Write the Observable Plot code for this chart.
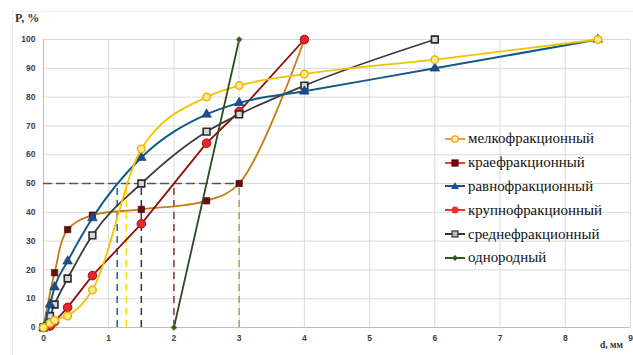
<!DOCTYPE html>
<html><head><meta charset="utf-8">
<script src="https://cdn.jsdelivr.net/npm/d3@7"></script>
<script src="https://cdn.jsdelivr.net/npm/@observablehq/plot@0.6"></script>
<style>
body{margin:0;background:#fff;}
#wrap{position:relative;width:633px;height:355px;overflow:hidden;}
#border{position:absolute;left:12px;top:11px;width:640px;height:400px;border-left:1px solid #ececec;border-top:1px solid #ececec;}
.ttl{position:absolute;font-family:"Liberation Serif","Times New Roman",serif;font-weight:bold;color:#333;white-space:nowrap;}
#legend{position:absolute;left:444px;top:127px;font-family:"Liberation Serif","Times New Roman",serif;font-size:16px;color:#111;}
#legend .row{height:23.8px;display:flex;align-items:center;white-space:nowrap;}
#legend svg{margin-right:2px;flex:none;}
</style></head>
<body><div id="wrap"><div id="border"></div></div>
<script>
// ticks
const xTicks = [0,1,2,3,4,5,6,7,8,9];
const yTicks = [0,10,20,30,40,50,60,70,80,90,100];

// series names
const names = ["мелкофракционный","краефракционный","равнофракционный","крупнофракционный","среднефракционный","однородный"];

// мелкофракционный
const melkoX = [0,0.1,0.17,0.37,0.75,1.5,2.5,3,4,6,8.5];
const melkoY = [0,1.5,2.5,4,13,62,80,84,88,93,100];
// краефракционный
const kraeX = [0,0.17,0.37,0.75,1.5,2.5,3,4];
const kraeY = [0,19,34,39,41,44,50,100];
// равнофракционный
const ravnoX = [0,0.1,0.17,0.37,0.75,1.5,2.5,3,4,6,8.5];
const ravnoY = [0,8,14,23,38,59,74,78,82,90,100];
// крупнофракционный
const krupX = [0,0.1,0.17,0.37,0.75,1.5,2.5,3,4];
const krupY = [0,0.5,2,7,18,36,64,75,100];
// среднефракционный
const sredX = [0,0.1,0.17,0.37,0.75,1.5,2.5,3,4,6];
const sredY = [0,4,8,17,32,50,68,74,84,100];
// однородный
const odnoX = [2,3];
const odnoY = [0,100];

// d50 guide lines
const d50Level = 50;
const d50HorizX = [0,3];
const d50X = [1.13,1.27,1.5,2,3];

const rows = (xs, ys) => xs.map((x,i)=>({x, y: ys[i]}));
const horiz = d50HorizX.map(x=>({x, y:d50Level}));
const d50Colors = ["#2f5f86","#f5e000","#333333","#8a3a2a","#b89a5a"];
const vert = d50X.map((x,i)=>({x, y1:0, y2:d50Level, c:d50Colors[i]}));

const chart = Plot.plot({
  width:633, height:355,
  marginLeft:43, marginRight:3, marginTop:39, marginBottom:28,
  style:{fontFamily:"Liberation Sans, sans-serif", fontSize:"8.5px", color:"#333", background:"transparent", overflow:"visible"},
  x:{domain:[0,9], label:null},
  y:{domain:[0,100], label:null},
  marks:[
    Plot.ruleX(xTicks, {stroke:"#dadada", strokeWidth:1}),
    Plot.ruleY(yTicks, {stroke:"#dadada", strokeWidth:1}),
    Plot.ruleX([0], {stroke:"#bdbdbd"}),
    Plot.ruleY([0], {stroke:"#bdbdbd"}),
    Plot.axisX({ticks:xTicks, tickSize:0, tickPadding:7, tickFormat:d=>String(d), fontWeight:"bold", fill:"#404040"}),
    Plot.axisY({ticks:yTicks, tickSize:0, tickPadding:8, tickFormat:d=>String(d), fontWeight:"bold", fill:"#404040"}),
    Plot.line(horiz, {x:"x", y:"y", stroke:"#555", strokeWidth:1.3, strokeDasharray:"8,5"}),
    Plot.ruleX(vert, {x:"x", y1:"y1", y2:"y2", stroke:d=>d.c, strokeWidth:1.5, strokeDasharray:"7,5"}),
    // краефракционный
    Plot.line(rows(kraeX,kraeY), {x:"x", y:"y", stroke:"#c57d12", strokeWidth:1.8, curve:"catmull-rom"}),
    Plot.dot(rows(kraeX,kraeY), {x:"x", y:"y", symbol:"square", r:3.6, fill:"#6e0a0a", stroke:"#3a0000", strokeWidth:0.6}),
    // крупнофракционный
    Plot.line(rows(krupX,krupY), {x:"x", y:"y", stroke:"#8e0f0f", strokeWidth:1.8}),
    Plot.dot(rows(krupX,krupY), {x:"x", y:"y", r:4.3, fill:"#e8262a", stroke:"#a01010", strokeWidth:1}),
    // среднефракционный
    Plot.line(rows(sredX,sredY), {x:"x", y:"y", stroke:"#3c3c3c", strokeWidth:1.8, curve:"monotone-x"}),
    Plot.dot(rows(sredX,sredY), {x:"x", y:"y", symbol:"square", r:3.8, fill:"#d8d8d8", stroke:"#2a2a2a", strokeWidth:1.6}),
    // равнофракционный
    Plot.line(rows(ravnoX,ravnoY), {x:"x", y:"y", stroke:"#135a86", strokeWidth:2, curve:"monotone-x"}),
    Plot.dot(rows(ravnoX,ravnoY), {x:"x", y:"y", symbol:"triangle", r:3.6, fill:"#1c4f8f", stroke:"#123a6e", strokeWidth:0.6}),
    // мелкофракционный
    Plot.line(rows(melkoX,melkoY), {x:"x", y:"y", stroke:"#f0c400", strokeWidth:1.8, curve:"monotone-x"}),
    Plot.dot(rows(melkoX,melkoY), {x:"x", y:"y", r:3.8, fill:"#fbe98a", stroke:"#e8b000", strokeWidth:1.4}),
    // однородный
    Plot.line(rows(odnoX,odnoY), {x:"x", y:"y", stroke:"#2e4a20", strokeWidth:1.8}),
    Plot.dot(rows(odnoX,odnoY), {x:"x", y:"y", symbol:"diamond2", r:2.8, fill:"#2e5a1e", stroke:"#8aa070", strokeWidth:0.8})
  ]
});
const wrap = document.getElementById("wrap");
chart.style.position="absolute"; chart.style.left="0"; chart.style.top="0";
wrap.appendChild(chart);

const t1 = document.createElement("div");
t1.className="ttl"; t1.textContent="P, %";
t1.style.cssText="left:15px;top:11px;font-size:12px;";
wrap.appendChild(t1);
const t2 = document.createElement("div");
t2.className="ttl"; t2.textContent="d, мм";
t2.style.cssText="left:600px;top:340px;font-size:9.5px;";
wrap.appendChild(t2);

// legend
const legStyles = [
  {line:"#f5a030", sym:"circle", fill:"#fff3c8", stroke:"#f59a20"},
  {line:"#e8402a", sym:"square", fill:"#7a0a0a", stroke:"#5a0000"},
  {line:"#1f4e9c", sym:"triangle", fill:"#1f4e9c", stroke:"#1f4e9c"},
  {line:"#f03030", sym:"dot", fill:"#f03030", stroke:"#f03030"},
  {line:"#333333", sym:"square", fill:"#bbbbbb", stroke:"#333333"},
  {line:"#2e5a20", sym:"diamond", fill:"#2e5a20", stroke:"#2e5a20"}
];
const leg = document.createElement("div"); leg.id="legend";
names.forEach((n,i)=>{
  const s = legStyles[i];
  let sym = "";
  if (s.sym==="circle") sym = `<circle cx="11" cy="7" r="3.2" fill="${s.fill}" stroke="${s.stroke}" stroke-width="1.3"/>`;
  if (s.sym==="dot") sym = `<circle cx="11" cy="7" r="3.5" fill="${s.fill}"/>`;
  if (s.sym==="square") sym = `<rect x="8" y="4" width="6" height="6" fill="${s.fill}" stroke="${s.stroke}" stroke-width="1.2"/>`;
  if (s.sym==="triangle") sym = `<polygon points="11,3 15,10 7,10" fill="${s.fill}"/>`;
  if (s.sym==="diamond") sym = `<polygon points="11,4 14,7 11,10 8,7" fill="${s.fill}"/>`;
  const row = document.createElement("div"); row.className="row";
  row.innerHTML = `<svg width="22" height="14"><line x1="1" x2="21" y1="7" y2="7" stroke="${s.line}" stroke-width="2"/>${sym}</svg><span>${n}</span>`;
  leg.appendChild(row);
});
wrap.appendChild(leg);
// fit legend text width to the reference (first label ≈126px wide)
const firstSpan = leg.querySelector("span");
const w = firstSpan.getBoundingClientRect().width;
if (w > 0) leg.style.fontSize = (16 * 126 / w).toFixed(2) + "px";
</script>
</body></html>
